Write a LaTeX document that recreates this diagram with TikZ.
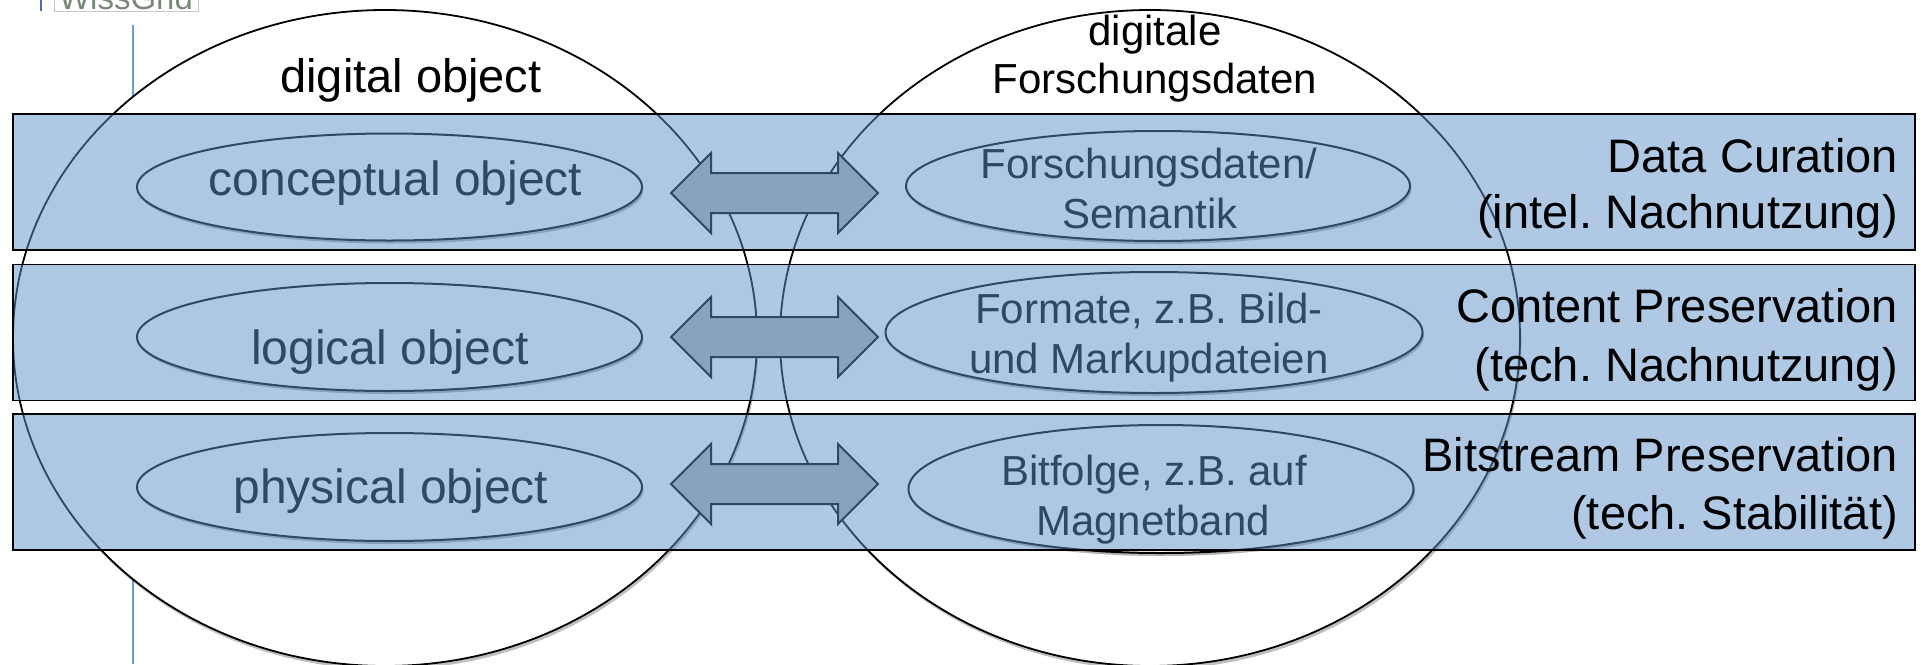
\documentclass[tikz,border=0pt]{standalone}
\usepackage{fontspec}
\setmainfont{Liberation Sans}
\usetikzlibrary{shapes.geometric,shadows}
\frenchspacing

\definecolor{bandblue}{RGB}{95,145,201}
\definecolor{arrowgray}{RGB}{180,183,181}
\definecolor{guideblue}{RGB}{108,158,214}
\definecolor{logobar}{RGB}{72,112,178}
\definecolor{logogreen}{RGB}{118,138,118}

\tikzset{
  ring/.style={draw=black, line width=1.8pt},
  ringshadow/.style={drop shadow={shadow xshift=1.5pt, shadow yshift=-3.5pt, opacity=0.25, fill=black}},
  oval/.style={ellipse, draw=black, line width=2pt, fill=white, inner sep=0pt,
    drop shadow={shadow xshift=1.5pt, shadow yshift=-3pt, opacity=0.3, fill=black}},
  blockarrow/.style={draw=black, line width=2pt, fill=arrowgray, line join=miter},
  band/.style={rectangle, draw=black, line width=1.8pt, fill=bandblue, fill opacity=0.5, inner sep=0pt},
  big/.style={inner sep=0pt, font=\fontsize{47pt}{56pt}\selectfont},
  bigger/.style={inner sep=0pt, font=\fontsize{48pt}{58pt}\selectfont},
  mid/.style={inner sep=0pt, font=\fontsize{42pt}{50pt}\selectfont},
  guide/.style={draw=guideblue, line width=1.8pt},
  dblarrow/.pic={
    \coordinate (-c) at (0,0);
    \draw[blockarrow] (-103.5,0) -- (-63.5,-40) -- (-63.5,-20) -- (63.5,-20) -- (63.5,-40)
      -- (103.5,0) -- (63.5,40) -- (63.5,20) -- (-63.5,20) -- (-63.5,40) -- cycle;
  }
}

\begin{document}
\begin{tikzpicture}[x=1pt, y=-1pt]
\useasboundingbox (0,0) rectangle (1921,664);

% header logo, cut by the page edge
\draw[draw=logobar, line width=2.5pt] (41,-5) -- (41,11);
\node[draw=black!22, line width=0.8pt, text=logogreen, inner xsep=5pt, inner ysep=2pt,
      anchor=base, font=\fontsize{33pt}{40pt}\selectfont] (logo) at (126,9.5) {WissGrid};

% slide guide line
\draw[guide] (133,25) -- (133,664);

% the two large outlines
\coordinate (lc) at (385,338);
\coordinate (rc) at (1150,338);
\path[ringshadow] (lc) ellipse [x radius=372pt, y radius=328pt];
\path[ringshadow] (rc) ellipse [x radius=370pt, y radius=328pt];
\fill[white] (lc) ellipse [x radius=372pt, y radius=328pt];
\fill[white] (rc) ellipse [x radius=370pt, y radius=328pt];
\draw[ring] (lc) ellipse [x radius=372pt, y radius=328pt];
\draw[ring] (rc) ellipse [x radius=370pt, y radius=328pt];

\node[big, anchor=base] (dobj) at (411,92) {digital object};
\node[mid, anchor=base] (dfd1) at (1155,45) {digitale};
\node[mid, anchor=base] (dfd2) at (1155,93) {Forschungsdaten};

% inner objects, left column
\node[oval, minimum width=505pt, minimum height=107pt] (concept) at (389.5,187) {};
\node[oval, minimum width=505pt, minimum height=108pt] (logical) at (389.5,337) {};
\node[oval, minimum width=505pt, minimum height=108pt] (physical) at (389.5,487) {};
\node[bigger, anchor=base] (conceptT) at (395.5,195) {conceptual object};
\node[bigger, anchor=base] (logicalT) at (390,364) {logical object};
\node[bigger, anchor=base] (physicalT) at (391,503) {physical object};

% inner objects, right column
\node[oval, minimum width=504pt, minimum height=110pt] (sem) at (1158,186) {};
\node[oval, minimum width=537pt, minimum height=121pt] (fmt) at (1154,332.5) {};
\node[oval, minimum width=505pt, minimum height=128pt] (bits) at (1161,489) {};
\node[mid, anchor=base] (semT1) at (1149,178) {Forschungsdaten/};
\node[mid, anchor=base] (semT2) at (1150,228) {Semantik};
\node[mid, anchor=base] (fmtT1) at (1149,323) {Formate, z.B. Bild-};
\node[mid, anchor=base] (fmtT2) at (1149,373) {und Markupdateien};
\node[mid, anchor=base] (bitsT1) at (1154,485) {Bitfolge, z.B. auf};
\node[mid, anchor=base] (bitsT2) at (1153,535) {Magnetband};

% correspondences
\pic (arrA) at (774.5,193) {dblarrow};
\pic (arrB) at (774.5,337) {dblarrow};
\pic (arrC) at (774.5,484) {dblarrow};

% layers
\node[band, minimum width=1902pt, minimum height=136pt] (curation) at (964,182) {};
\node[band, minimum width=1902pt, minimum height=136pt] (content) at (964,332.5) {};
\node[band, minimum width=1902pt, minimum height=136pt] (bitstream) at (964,482) {};

\node[big, anchor=base east] (cur1) at (1898,172) {Data Curation};
\node[big, anchor=base east] (cur2) at (1898,228) {(intel. Nachnutzung)};
\node[big, anchor=base east] (con1) at (1898,322) {Content Preservation};
\node[big, anchor=base east] (con2) at (1898,381) {(tech. Nachnutzung)};
\node[big, anchor=base east] (bit1) at (1898,471) {Bitstream Preservation};
\node[big, anchor=base east] (bit2) at (1898,529) {(tech. Stabilität)};
\end{tikzpicture}
\end{document}
